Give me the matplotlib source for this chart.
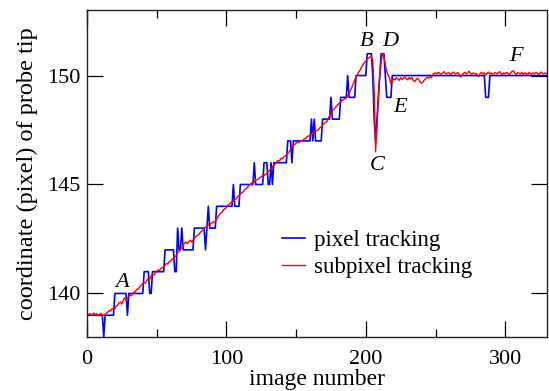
import numpy as np
import matplotlib
matplotlib.use('Agg')
import matplotlib.pyplot as plt
from matplotlib.ticker import MultipleLocator

plt.rcParams['font.family'] = ['Liberation Serif', 'DejaVu Serif']

# pixel tracking: integer positions, stored as runs (value, number of images)
blue_levels = [139, 138, 139, 140, 139, 140, 141, 140, 141, 142, 141, 143, 142, 143,
               142, 143, 142, 143, 144, 143, 144, 145, 144, 145, 146, 145, 146, 145,
               146, 145, 146, 147, 146, 147, 148, 147, 148, 147, 148, 149, 148, 149,
               150, 149, 150, 151, 150, 148, 147, 148, 149, 150, 151, 150, 149, 150,
               149, 150]
blue_counts = [12, 1, 7, 9, 1, 11, 4, 2, 9, 7, 2, 1, 2, 1,
               8, 8, 1, 1, 1, 5, 12, 1, 4, 10, 1, 6, 3, 2,
               1, 1, 10, 3, 1, 13, 1, 1, 1, 5, 6, 1, 6, 5,
               1, 5, 8, 4, 1, 1, 1, 1, 1, 1, 3, 1, 4, 67,
               3, 44]

# subpixel tracking, one value per image
red = [139.05, 139.02, 139.08, 139.0, 139.06, 139.1, 139.03, 139.07, 138.98, 139.05,
       139.08, 139.02, 139.0, 139.06, 139.1, 139.15, 139.22, 139.2, 139.3, 139.26,
       139.32, 139.42, 139.45, 139.58, 139.6, 139.52, 139.7, 139.8, 139.68, 139.78,
       139.85, 139.92, 139.9, 140.02, 140.06, 140.12, 140.2, 140.22, 140.32, 140.38,
       140.45, 140.5, 140.48, 140.62, 140.7, 140.66, 140.8, 140.86, 140.84, 140.95,
       141.0, 141.08, 141.05, 141.15, 141.2, 141.22, 141.3, 141.38, 141.35, 141.45,
       141.5, 141.58, 141.55, 141.67, 141.75, 141.88, 141.92, 142.05, 142.1, 142.25,
       142.3, 142.36, 142.28, 142.38, 142.45, 142.36, 142.44, 142.52, 142.6, 142.66,
       142.7, 142.78, 142.85, 142.9, 142.98, 143.05, 143.1, 143.15, 143.12, 143.22,
       143.25, 143.3, 143.28, 143.4, 143.52, 143.62, 143.7, 143.74, 143.85, 143.88,
       143.95, 144.05, 144.08, 144.16, 144.2, 144.25, 144.3, 144.34, 144.45, 144.48,
       144.58, 144.62, 144.66, 144.75, 144.8, 144.86, 144.95, 145.0, 145.05, 145.12,
       145.1, 145.2, 145.22, 145.25, 145.32, 145.35, 145.42, 145.4, 145.48, 145.5,
       145.6, 145.66, 145.7, 145.82, 145.88, 145.95, 146.04, 146.1, 146.08, 146.2,
       146.18, 146.26, 146.3, 146.36, 146.42, 146.5, 146.62, 146.7, 146.81, 146.84,
       146.9, 146.95, 146.92, 147.0, 147.02, 147.04, 147.1, 147.12, 147.2, 147.22,
       147.27, 147.32, 147.35, 147.42, 147.45, 147.48, 147.52, 147.6, 147.65, 147.75,
       147.78, 147.85, 147.88, 148.02, 148.15, 148.3, 148.38, 148.45, 148.52, 148.6,
       148.68, 148.73, 148.8, 148.86, 148.9, 148.94, 148.96, 149.08, 149.15, 149.32,
       149.45, 149.62, 149.8, 149.95, 150.05, 150.18, 150.25, 150.4, 150.5, 150.6,
       150.65, 150.75, 150.8, 150.85, 150.87, 150.7, 149.3, 146.5, 147.6, 149.0,
       150.0, 150.65, 151.0, 150.85, 150.5, 150.2, 150.0, 149.9, 149.6, 149.75,
       149.85, 149.8, 149.9, 149.85, 149.78, 149.9, 149.82, 149.88, 149.95, 149.86,
       149.8, 149.9, 149.85, 149.92, 149.78, 149.72, 149.8, 149.88, 149.82, 149.7,
       149.65, 149.7, 149.8, 149.85, 149.92, 149.88, 149.95, 149.9, 150.05, 150.1,
       150.12, 150.08, 150.15, 150.1, 150.06, 150.12, 150.18, 150.1, 150.08, 150.14,
       150.1, 150.05, 150.12, 150.16, 150.08, 150.1, 150.14, 150.06, 149.92, 150.02,
       150.1, 150.15, 150.08, 150.12, 150.2, 150.1, 150.06, 150.12, 150.08, 150.1,
       150.04, 149.95, 150.1, 150.15, 150.08, 150.12, 150.02, 150.1, 150.16, 150.08,
       150.12, 150.06, 150.1, 150.14, 150.08, 150.12, 150.18, 150.1, 150.05, 150.12,
       150.08, 150.14, 150.1, 150.04, 150.12, 150.2, 150.22, 150.1, 150.06, 150.14,
       150.1, 150.08, 150.15, 150.05, 150.12, 150.1, 150.02, 150.14, 150.1, 150.06,
       150.12, 150.08, 150.15, 150.1, 150.05, 150.12, 150.16, 150.08, 150.1, 150.12,
       150.08, 150.1, 150.06]

# point labels and where they sit (data coords)
labels = ['A', 'B', 'C', 'D', 'E', 'F']
label_x = [24.9, 200.6, 207.9, 217.5, 224.6, 307.8]
label_y = [140.52, 151.55, 145.89, 151.55, 148.55, 150.89]

blue = np.repeat(blue_levels, blue_counts)
frames = np.arange(len(red))

fig = plt.figure(figsize=(5.49, 3.91), dpi=100)
ax = fig.add_axes([0.1585, 0.138, 0.8379, 0.836])

ax.plot(frames, blue, color='#0000ff', lw=1.2, label='pixel tracking')
ax.plot(frames, red, color='#ff0000', lw=1.0, label='subpixel tracking')

for lab, lx, ly in zip(labels, label_x, label_y):
    ax.text(lx, ly, lab, fontsize=16, style='italic', ha='center', va='center')

ax.set_xlim(0, 330)
ax.set_ylim(138, 153)
ax.xaxis.set_major_locator(MultipleLocator(100))
ax.xaxis.set_minor_locator(MultipleLocator(50))
ax.yaxis.set_major_locator(MultipleLocator(5))
ax.tick_params(which='both', direction='in', top=True, right=True, labelsize=16)
ax.tick_params(axis='x', which='major', length=11.5, width=0.9, pad=9)
ax.tick_params(axis='x', which='minor', length=6, width=0.9)
ax.tick_params(axis='y', which='major', length=11.5, width=0.9, pad=5)
for s in ax.spines.values():
    s.set_linewidth(1.0)
    s.set_color('#222222')

ax.set_xlabel('image number', fontsize=17, labelpad=0)
ax.set_ylabel('coordinate (pixel) of probe tip', fontsize=17.5, labelpad=6)

ax.legend(loc='center left', bbox_to_anchor=(0.424, 0.254), frameon=False,
          fontsize=16.5, handlelength=1.0, handletextpad=0.4, labelspacing=0.25,
          borderpad=0, borderaxespad=0)

fig.savefig('out.png', dpi=100)
